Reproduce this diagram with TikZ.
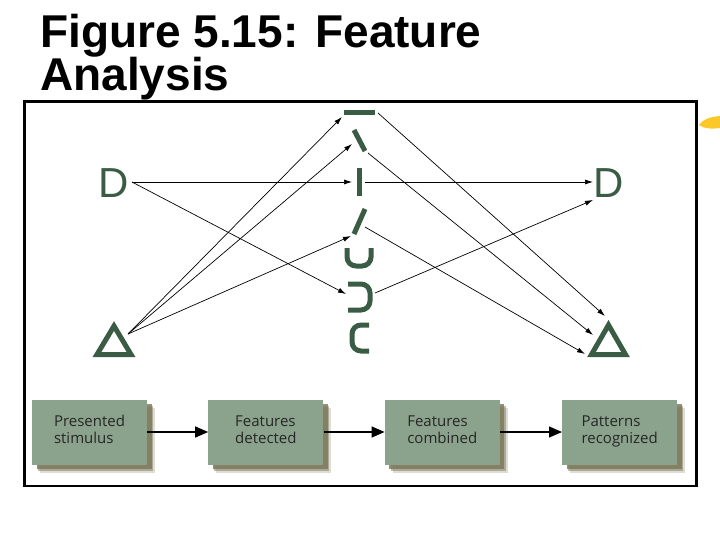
\documentclass[tikz,border=0pt]{standalone}
\usepackage{fontspec}
\setmainfont{Liberation Sans}
\newfontfamily\boitefont{Open Sans}
\usetikzlibrary{arrows.meta, positioning, shadows}
\definecolor{vertfonce}{RGB}{58,92,68}
\definecolor{vertboite}{RGB}{139,163,140}
\definecolor{ombre}{RGB}{122,118,86}
\definecolor{jaune}{RGB}{250,200,40}

\begin{document}
\begin{tikzpicture}[x=1pt, y=-1pt, >={Latex[length=8pt,width=5pt]},
    lien/.style={->, line width=0.7pt},
    trait/.style={vertfonce, line width=5pt},
    lettre/.style={vertfonce, font=\fontsize{42}{42}\selectfont, inner sep=0pt, anchor=base},
    boite/.style={fill=vertboite, minimum width=115pt, minimum height=65pt, inner sep=0pt,
                  align=left, text=black!85, font=\boitefont\fontsize{15}{17}\selectfont,
                  drop shadow={shadow xshift=8pt, shadow yshift=-8pt, fill=ombre, opacity=0.25},
                  drop shadow={shadow xshift=6pt, shadow yshift=-6pt, fill=ombre, opacity=0.5},
                  drop shadow={shadow xshift=4.5pt, shadow yshift=-4.5pt, fill=ombre, opacity=0.8}},
    fleche/.style={-{Triangle[length=13pt,width=11pt]}, line width=1.3pt}]

  \useasboundingbox (0,0) rectangle (720,540);

  % Titre
  \node[anchor=base west, inner sep=0pt, font=\bfseries\fontsize{46}{46}\selectfont]
      (titre1) at (40,48) {Figure 5.15: Feature};
  \node[anchor=base west, inner sep=0pt, font=\bfseries\fontsize{46}{46}\selectfont]
      (titre2) at (40,91) {Analysis};

  % Cadre et puce
  \draw[line width=2.5pt] (24.5,101.5) rectangle (696.5,486);
  \fill[jaune] (699,125) .. controls (703,119) and (710,117) .. (720,116)
      -- (720,128) .. controls (712,129) and (704,129) .. cycle;

  % Stimuli (gauche)
  \node[lettre] (dGauche) at (114,197) {D};
  \draw[trait, line join=miter] (114,326) -- (131,354.5) -- (97,354.5) -- cycle;

  % Traits elementaires
  \draw[trait] (344,113) -- (375,113);
  \draw[trait] (354,130) -- (365,151);
  \draw[trait] (359,168) -- (359,196);
  \draw[trait] (365,209) -- (354,234);
  \draw[trait, rounded corners=9pt] (347,248) -- (347,266) -- (371,266) -- (371,248);
  \draw[trait, rounded corners=9pt] (348,284) -- (370,284) -- (370,310) -- (348,310);
  \draw[trait, rounded corners=9pt] (369,325) -- (352,325) -- (352,351) -- (369,351);

  % Formes reconnues (droite)
  \node[lettre] (dDroite) at (609,197) {D};
  \draw[trait, line join=miter] (608.5,325) -- (625.5,354.5) -- (591.5,354.5) -- cycle;

  % Points d'attache
  \coordinate (dGs) at (132,182);
  \coordinate (tGs) at (128,334);
  \coordinate (barreE) at (342,117);
  \coordinate (antiE) at (352,144);
  \coordinate (vertE) at (352,182);
  \coordinate (obliqE) at (351,236);
  \coordinate (dcE) at (346,294);
  \coordinate (barreS) at (378,113);
  \coordinate (antiS) at (368,153);
  \coordinate (vertS) at (365,182);
  \coordinate (obliqS) at (365,227);
  \coordinate (dcS) at (375,293);
  \coordinate (dDe1) at (593,182);
  \coordinate (dDe2) at (593,200);
  \coordinate (tDe1) at (605,316);
  \coordinate (tDe2) at (593,335);
  \coordinate (tDe3) at (585,354);

  % Liens
  \draw[lien] (dGs) -- (vertE);
  \draw[lien] (dGs) -- (dcE);
  \draw[lien] (tGs) -- (barreE);
  \draw[lien] (tGs) -- (antiE);
  \draw[lien] (tGs) -- (obliqE);
  \draw[lien] (vertS) -- (dDe1);
  \draw[lien] (dcS) -- (dDe2);
  \draw[lien] (barreS) -- (tDe1);
  \draw[lien] (antiS) -- (tDe2);
  \draw[lien] (obliqS) -- (tDe3);

  % Etapes
  \node[boite] (presente) at (89.5,432) {Presented\strut\\stimulus\strut};
  \node[boite, right=61pt of presente] (detecte) {Features\strut\\detected\strut};
  \node[boite, right=61pt of detecte] (combine) {Features\strut\\combined\strut};
  \node[boite, right=62pt of combine] (reconnu) {Patterns\strut\\recognized\strut};
  \draw[fleche] (presente) -- (detecte);
  \draw[fleche] (detecte) -- (combine);
  \draw[fleche] (combine) -- (reconnu);
\end{tikzpicture}
\end{document}
